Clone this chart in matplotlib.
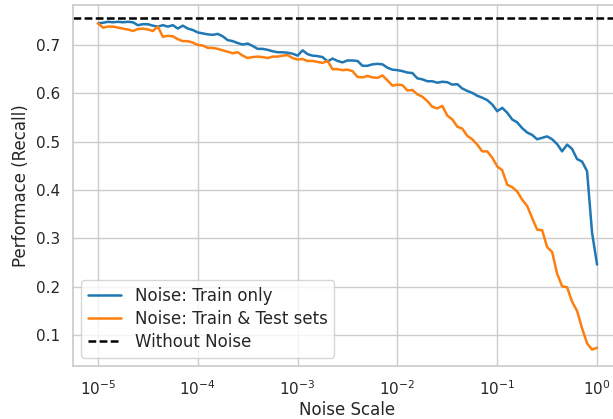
import numpy as np
import matplotlib
matplotlib.use("Agg")
import matplotlib.pyplot as plt
import seaborn as sns

"""Data read off the reference"""
noise_scale = np.logspace(-5, 0, 101)

train_only = [
    0.745, 0.746, 0.748, 0.747, 0.748, 0.747, 0.748, 0.747, 0.741, 0.743,
    0.743, 0.740, 0.738, 0.741, 0.738, 0.741, 0.734, 0.740, 0.734, 0.731,
    0.726,
    0.724, 0.722, 0.721, 0.723, 0.718, 0.710, 0.708, 0.704, 0.701, 0.703,
    0.698, 0.692, 0.692, 0.690, 0.687, 0.685, 0.685, 0.684, 0.682,
    0.678,
    0.689, 0.681, 0.678, 0.677, 0.675, 0.666, 0.672, 0.667, 0.664, 0.668,
    0.668, 0.667, 0.657, 0.657, 0.660, 0.661, 0.660, 0.653, 0.649,
    0.648,
    0.646, 0.643, 0.642, 0.631, 0.629, 0.625, 0.625, 0.622, 0.624, 0.623,
    0.618, 0.619, 0.610, 0.605, 0.601, 0.595, 0.591, 0.586, 0.577,
    0.563,
    0.570, 0.560, 0.546, 0.540, 0.528, 0.519, 0.514, 0.505, 0.508, 0.511,
    0.505, 0.495, 0.480, 0.494, 0.485, 0.464, 0.459, 0.439, 0.312, 0.246,
]

train_test = [
    0.745, 0.736, 0.738, 0.738, 0.736, 0.734, 0.732, 0.729, 0.733, 0.734,
    0.732, 0.729, 0.738, 0.717, 0.719, 0.718, 0.712, 0.708, 0.708, 0.705,
    0.700,
    0.699, 0.694, 0.694, 0.692, 0.689, 0.686, 0.683, 0.685, 0.678, 0.673,
    0.675, 0.676, 0.675, 0.673, 0.676, 0.676, 0.678, 0.679, 0.673,
    0.670,
    0.671, 0.667, 0.667, 0.665, 0.663, 0.667, 0.650, 0.650, 0.648, 0.649,
    0.646, 0.634, 0.633, 0.636, 0.633, 0.632, 0.637, 0.627, 0.616,
    0.618,
    0.617, 0.606, 0.607, 0.598, 0.593, 0.584, 0.572, 0.569, 0.574, 0.554,
    0.546, 0.531, 0.527, 0.512, 0.505, 0.494, 0.480, 0.480, 0.467,
    0.449,
    0.441, 0.411, 0.406, 0.397, 0.380, 0.367, 0.342, 0.318, 0.317, 0.282,
    0.272, 0.227, 0.201, 0.199, 0.169, 0.150, 0.114, 0.083, 0.070, 0.074,
]

baseline = 0.755

"""Plot"""
sns.set_theme(style="whitegrid")
fig = plt.figure(figsize=(6.13, 4.19), dpi=100)
# axes run past the right edge, as in the reference crop
ax = fig.add_axes([73/613, 53/419, 549/613, 360.6/419])
ax.plot(noise_scale, train_only, color="tab:blue", lw=1.8, label="Noise: Train only")
ax.plot(noise_scale, train_test, color="tab:orange", lw=1.8, label="Noise: Train & Test sets")
ax.axhline(baseline, color="black", lw=1.8, linestyle=(0, (3.1, 1.35)), label="Without Noise")
ax.set_xscale("log")
ax.set_xlabel("Noise Scale", labelpad=2)
ax.set_ylabel("Performace (Recall)")
ax.legend(loc="lower left", fontsize=12, labelspacing=0.3)
fig.savefig("out.png", dpi=100)
